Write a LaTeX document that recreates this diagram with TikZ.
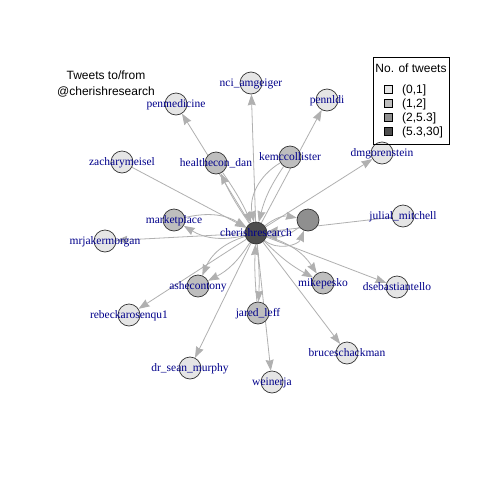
\documentclass[tikz,border=0pt]{standalone}
\usepackage{fontspec}
\setmainfont{Liberation Serif}
\newfontfamily\helv{Liberation Sans}
\usetikzlibrary{arrows.meta}
\pgfdeclarelayer{paper}
\pgfdeclarelayer{bg}
\pgfsetlayers{paper,bg,main}
\definecolor{cA}{HTML}{E5E5E5}
\definecolor{cB}{HTML}{BEBEBE}
\definecolor{cC}{HTML}{8F8F8F}
\definecolor{cD}{HTML}{4D4D4D}
\definecolor{labblue}{HTML}{00008B}
\definecolor{edgegray}{HTML}{B0B0B0}
\begin{document}
\begin{tikzpicture}[x=1pt,y=-1pt,
 vtx/.style={circle,draw=black!80,line width=0.7pt,minimum size=22pt,inner sep=0pt},
 lbl/.style={text=labblue,font=\fontsize{11.5}{12}\selectfont,inner sep=0pt,text height=7.6pt,text depth=0pt},
 edge/.style={draw=edgegray,line width=0.8pt,-{Stealth[length=11pt,width=8pt,inset=1pt]}},
 sq/.style={draw=black,line width=0.6pt,minimum size=8pt,inner sep=0pt},
 legtxt/.style={font=\helv\fontsize{12}{14}\selectfont,inner sep=0pt,anchor=base west},
 ttl/.style={font=\helv\fontsize{12}{14}\selectfont,inner sep=0pt,anchor=base}
]
\begin{pgfonlayer}{paper}
\fill[white] (0,0) rectangle (480,480);
\end{pgfonlayer}
\useasboundingbox (0,0) rectangle (480,480);

% vertices
\node[vtx,fill=cD] (ch) at (256,233) {};
\node[vtx,fill=cC] (un) at (308,220) {};
\node[vtx,fill=cA] (nci) at (251,83) {};
\node[vtx,fill=cA] (pennldi) at (327,100) {};
\node[vtx,fill=cA] (penmed) at (176,104) {};
\node[vtx,fill=cB] (hd) at (216,163) {};
\node[vtx,fill=cB] (kem) at (290,157) {};
\node[vtx,fill=cA] (zach) at (122,162) {};
\node[vtx,fill=cA] (dmg) at (382,153) {};
\node[vtx,fill=cA] (julial) at (403,216) {};
\node[vtx,fill=cB] (market) at (174,220) {};
\node[vtx,fill=cA] (mrjaker) at (105,241) {};
\node[vtx,fill=cB] (ash) at (198,286) {};
\node[vtx,fill=cA] (rebecka) at (129,315) {};
\node[vtx,fill=cB] (mike) at (323,283) {};
\node[vtx,fill=cA] (dseb) at (397,287) {};
\node[vtx,fill=cB] (jared) at (258,313) {};
\node[vtx,fill=cA] (bruce) at (347,353) {};
\node[vtx,fill=cA] (drsean) at (190,368) {};
\node[vtx,fill=cA] (weinerja) at (272,382) {};

% edges
\begin{pgfonlayer}{bg}
\draw[edge] (ch) -- (nci);
\draw[edge] (ch) -- (pennldi);
\draw[edge] (ch) -- (penmed);
\draw[edge] (ch) to[bend left=5] (hd);
\draw[edge] (hd) to[bend left=5] (ch);
\draw[edge] (kem) to[bend right=35] (ch);
\draw[edge] (kem) to[bend right=10] (ch);
\draw[edge] (ch) -- (dmg);
\draw[edge] (zach) -- (ch);
\draw[edge] (market) to[bend left=22] (ch);
\draw[edge] (ch) to[bend left=22] (market);
\draw[edge] (ch) -- (mrjaker);
\draw[edge] (ch) to[bend right=25] (ash);
\draw[edge] (ch) to[bend left=15] (ash);
\draw[edge] (ch) -- (rebecka);
\draw[edge] (ch) -- (drsean);
\draw[edge] (ch) to[bend left=4] (jared);
\draw[edge] (jared) to[bend left=4] (ch);
\draw[edge] (ch) -- (weinerja);
\draw[edge] (ch) to[bend left=20] (mike);
\draw[edge] (ch) to[bend right=8] (mike);
\draw[edge] (ch) -- (dseb);
\draw[edge] (ch) -- (bruce);
\draw[edge] (julial) -- (ch);
\draw[edge] (ch) to[bend left=25] (un);
\draw[edge] (un) to[bend left=25] (ch);
\draw[edge] (ch) to[bend right=55] (un);
\end{pgfonlayer}

% labels
\node[lbl] (l-ch) at (ch) {cherishresearch};
\node[lbl] (l-nci) at (nci) {nci\_amgeiger};
\node[lbl] (l-pennldi) at (pennldi) {pennldi};
\node[lbl] (l-penmed) at (penmed) {penmedicine};
\node[lbl] (l-hd) at (hd) {healthecon\_dan};
\node[lbl] (l-kem) at (kem) {kemccollister};
\node[lbl] (l-zach) at (zach) {zacharymeisel};
\node[lbl] (l-dmg) at (dmg) {dmgorenstein};
\node[lbl] (l-julial) at (julial) {julial\_mitchell};
\node[lbl] (l-market) at (market) {marketplace};
\node[lbl] (l-mrjaker) at (mrjaker) {mrjakermorgan};
\node[lbl] (l-ash) at (ash) {ashecontony};
\node[lbl] (l-rebecka) at (rebecka) {rebeckarosenqu1};
\node[lbl] (l-mike) at (mike) {mikepesko};
\node[lbl] (l-dseb) at (dseb) {dsebastiantello};
\node[lbl] (l-jared) at (jared) {jared\_leff};
\node[lbl] (l-bruce) at (bruce) {bruceschackman};
\node[lbl] (l-drsean) at (drsean) {dr\_sean\_murphy};
\node[lbl] (l-weinerja) at (weinerja) {weinerja};

% title
\node[ttl] (t1) at (106,79.3) {Tweets to/from};
\node[ttl] (t2) at (106,95.3) {@cherishresearch};

% legend
\draw[line width=0.7pt] (373,57) rectangle (449,144);
\node[ttl] (lt) at (411,72.3) {No. of tweets};
\node[sq,fill=cA] (k1) at (388,89) {};
\node[sq,fill=cB] (k2) at (388,103) {};
\node[sq,fill=cC] (k3) at (388,117) {};
\node[sq,fill=cD] (k4) at (388,131) {};
\node[legtxt] (lk1) at (402,93.3) {(0,1]};
\node[legtxt] (lk2) at (402,107.3) {(1,2]};
\node[legtxt] (lk3) at (402,121.3) {(2,5.3]};
\node[legtxt] (lk4) at (402,135.3) {(5.3,30]};
\end{tikzpicture}
\end{document}
